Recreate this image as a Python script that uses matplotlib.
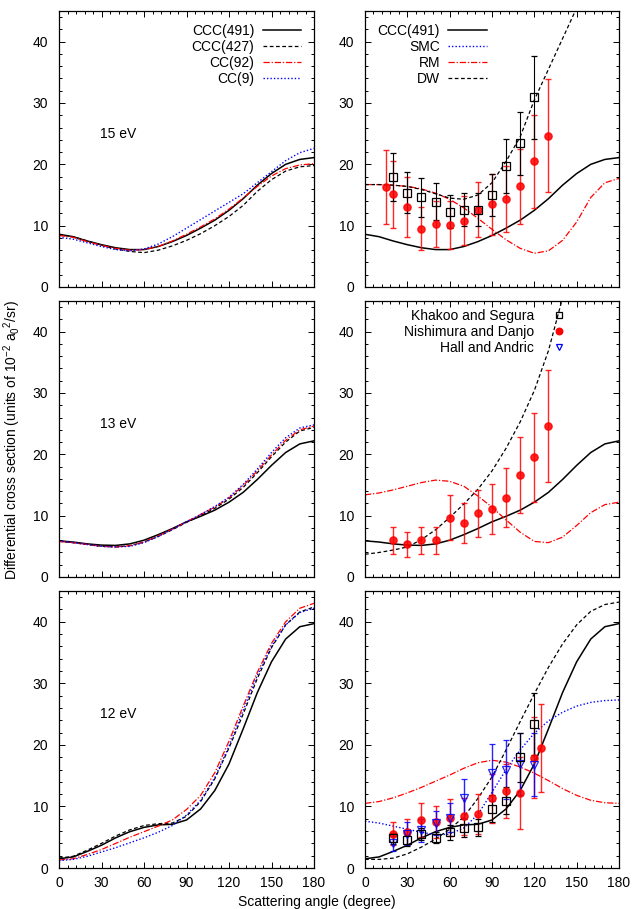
import matplotlib
matplotlib.use("Agg")
import matplotlib.pyplot as plt
from matplotlib.lines import Line2D
from matplotlib.ticker import MultipleLocator

plt.rcParams['font.family'] = ['Liberation Sans', 'DejaVu Sans']
plt.rcParams['mathtext.fontset'] = 'custom'
plt.rcParams['mathtext.rm'] = 'Liberation Sans'
plt.rcParams['mathtext.it'] = 'Liberation Sans'

# ---------------- data ----------------
ang = [0, 10, 20, 30, 40, 50, 60, 70, 80, 90, 100, 110, 120, 130, 140, 150, 160, 170, 180]

# 15 eV theory
ccc491_15 = [8.6, 8.2, 7.5, 6.9, 6.4, 6.1, 6.1, 6.6, 7.4, 8.4, 9.6, 10.9, 12.5, 14.4, 16.6, 18.5, 20.0, 20.8, 21.1]
ccc427_15 = [8.5, 8.2, 7.5, 6.8, 6.2, 5.8, 5.6, 6.0, 6.7, 7.6, 8.7, 10.0, 11.5, 13.3, 15.6, 17.5, 18.9, 19.6, 19.8]
cc92_15 = [8.4, 8.1, 7.4, 6.8, 6.3, 6.0, 6.1, 6.6, 7.5, 8.6, 9.8, 11.1, 12.7, 14.5, 16.4, 18.1, 19.3, 19.9, 20.1]
cc9_15 = [8.1, 7.8, 7.2, 6.6, 6.1, 5.9, 6.2, 7.0, 8.2, 9.6, 11.0, 12.4, 13.8, 15.2, 17.0, 18.8, 20.6, 21.9, 22.6]
rm_15 = [16.7, 16.7, 16.6, 16.4, 16.0, 15.3, 14.3, 12.9, 11.2, 9.4, 7.7, 6.3, 5.5, 5.9, 7.6, 10.6, 14.6, 17.0, 17.7]
dw_15_ang = [0, 10, 20, 30, 40, 50, 60, 70, 80, 90, 100, 110, 120, 130, 140, 150]
dw_15 = [16.7, 16.7, 16.6, 16.4, 15.9, 15.2, 14.5, 14.3, 15.0, 17.0, 20.5, 24.5, 30.5, 35.5, 40.5, 45.5]

# 13 eV theory
ccc491_13 = [5.9, 5.7, 5.4, 5.2, 5.15, 5.4, 6.0, 6.9, 7.9, 9.0, 9.9, 10.9, 12.2, 13.8, 15.9, 18.2, 20.3, 21.7, 22.2]
ccc427_13 = [5.8, 5.6, 5.3, 5.0, 4.9, 5.1, 5.7, 6.6, 7.7, 8.9, 10.0, 11.2, 12.7, 14.6, 17.0, 19.6, 22.0, 23.8, 24.4]
cc92_13 = [5.8, 5.6, 5.3, 5.0, 4.9, 5.1, 5.7, 6.7, 7.8, 9.0, 10.2, 11.4, 12.9, 14.9, 17.3, 19.9, 22.3, 24.0, 24.6]
cc9_13 = [5.9, 5.6, 5.3, 5.0, 4.9, 5.0, 5.6, 6.6, 7.8, 9.0, 10.2, 11.5, 13.0, 15.1, 17.6, 20.3, 22.7, 24.3, 24.8]
rm_13 = [13.4, 13.7, 14.2, 14.8, 15.4, 15.8, 15.6, 14.8, 13.2, 11.4, 9.3, 7.3, 5.8, 5.6, 6.5, 8.4, 10.5, 11.8, 12.2]
dw_13_ang = [0, 10, 20, 30, 40, 50, 60, 70, 80, 90, 100, 110, 120, 130, 140]
dw_13 = [3.7, 4.0, 4.4, 4.9, 6.1, 7.7, 9.7, 11.9, 14.3, 17.3, 21.0, 25.3, 30.4, 36.9, 45.5]

# 12 eV theory
ccc491_12 = [1.5, 1.8, 2.7, 3.7, 4.9, 5.9, 6.6, 7.0, 7.1, 7.8, 9.6, 12.6, 16.9, 22.6, 28.5, 33.5, 37.2, 39.2, 39.7]
ccc427_12 = [1.6, 1.9, 2.9, 4.0, 5.2, 6.2, 6.9, 7.2, 7.3, 8.4, 10.8, 14.5, 19.5, 25.0, 30.8, 35.8, 39.5, 41.6, 42.4]
cc92_12 = [1.3, 1.5, 2.2, 3.0, 4.0, 5.0, 5.9, 6.8, 7.8, 9.5, 11.8, 15.5, 20.6, 26.3, 31.8, 36.5, 40.0, 42.2, 43.0]
cc9_12 = [1.2, 1.4, 1.9, 2.6, 3.3, 4.1, 4.9, 5.8, 6.9, 8.6, 11.0, 14.7, 19.8, 25.6, 31.3, 36.0, 39.5, 41.5, 42.2]
rm_12 = [10.5, 10.8, 11.4, 12.2, 13.1, 14.1, 15.1, 16.2, 17.1, 17.5, 17.2, 16.4, 15.4, 14.2, 12.9, 11.8, 11.0, 10.6, 10.5]
dw_12 = [1.4, 1.4, 1.6, 2.3, 3.4, 4.7, 6.3, 8.3, 11.3, 14.8, 19.2, 23.8, 28.3, 32.6, 36.4, 39.5, 41.7, 42.8, 43.2]
smc_12 = [7.6, 7.3, 6.8, 6.3, 5.8, 5.4, 5.5, 6.5, 8.7, 12.3, 16.0, 19.2, 21.9, 23.9, 25.3, 26.3, 26.9, 27.2, 27.3]

# experiments
ks15_ang = [20, 30, 40, 50, 60, 70, 80, 90, 100, 110, 120]
ks15_val = [17.9, 15.4, 14.6, 13.9, 12.3, 12.6, 12.6, 15.0, 19.8, 23.4, 30.9]
ks15_err = [3.9, 3.4, 3.2, 3.0, 2.7, 2.7, 2.7, 3.5, 4.4, 5.2, 6.7]
nd15_ang = [15, 20, 30, 40, 50, 60, 70, 80, 90, 100, 110, 120, 130]
nd15_val = [16.3, 15.1, 13.0, 9.5, 10.3, 10.1, 10.8, 12.6, 13.5, 14.4, 16.4, 20.5, 24.7]
nd15_err = [6.1, 5.5, 4.9, 3.5, 3.8, 3.9, 4.0, 4.5, 5.0, 5.4, 6.1, 7.6, 9.2]

nd13_ang = [20, 30, 40, 50, 60, 70, 80, 90, 100, 110, 120, 130]
nd13_val = [6.0, 5.3, 6.0, 6.0, 9.7, 8.8, 10.4, 11.1, 12.9, 16.7, 19.5, 24.6]
nd13_err = [2.2, 2.0, 2.2, 2.2, 3.6, 3.3, 3.8, 4.1, 4.8, 6.2, 7.2, 9.1]

ks12_ang = [20, 30, 40, 50, 60, 70, 80, 90, 100, 110, 120]
ks12_val = [4.8, 4.5, 5.5, 4.9, 5.8, 6.5, 6.6, 9.6, 10.9, 18.0, 23.4]
ks12_err = [0.9, 0.9, 1.0, 0.9, 1.2, 1.4, 1.4, 2.2, 2.2, 4.0, 5.1]
nd12_ang = [20, 30, 40, 50, 60, 70, 80, 90, 100, 110, 120, 125]
nd12_val = [5.6, 5.8, 7.8, 7.4, 8.2, 8.4, 8.8, 11.3, 12.5, 12.2, 17.9, 19.5]
nd12_err = [1.9, 2.1, 2.8, 2.6, 3.0, 3.0, 3.3, 4.0, 4.4, 5.8, 6.6, 7.2]
ha12_ang = [20, 30, 40, 50, 60, 70, 90, 100, 110, 120]
ha12_val = [4.0, 5.6, 6.1, 7.3, 8.2, 11.3, 15.5, 16.0, 16.9, 16.8]
ha12_err = [1.2, 1.8, 1.8, 2.0, 2.3, 3.2, 4.6, 4.8, 5.0, 5.1]

xticks = [0, 30, 60, 90, 120, 150, 180]
yticks = [0, 10, 20, 30, 40]
energy_labels = ['15 eV', '13 eV', '12 eV']

# ---------------- styles ----------------
S_SOLID = dict(color='black', lw=1.1, ls='-')
S_DASH = dict(color='black', lw=0.9, ls=(0, (3, 2)))
S_DDOT = dict(color='#ff0000', lw=0.9, ls=(0, (5, 1.5, 1, 1.5)))
S_DOT = dict(color='#0000ff', lw=1.0, ls=(0, (1, 1.5)))
RED = '#ff0000'
BLUE = '#0000ff'

fig = plt.figure(figsize=(6.34, 9.09), dpi=100)

lx, rx = 59 / 634, 365 / 634
lw_, rw_ = 255 / 634, 254 / 634
rows = [((909 - 287) / 909, 276 / 909), ((909 - 577) / 909, 276 / 909), ((909 - 868) / 909, 277 / 909)]

axes = []
for r, (y0, h) in enumerate(rows):
    axL = fig.add_axes([lx, y0, lw_, h])
    axR = fig.add_axes([rx, y0, rw_, h])
    axes.append((axL, axR))
    for ax in (axL, axR):
        ax.set_xlim(0, 180)
        ax.set_ylim(0, 45)
        ax.set_xticks(xticks)
        ax.set_yticks(yticks)
        ax.xaxis.set_minor_locator(MultipleLocator(6))
        ax.yaxis.set_minor_locator(MultipleLocator(2))
        ax.tick_params(which='both', direction='in', top=True, right=True, labelsize=10, width=0.7)
        ax.tick_params(which='major', length=4)
        ax.tick_params(which='minor', length=2)
        ax.tick_params(axis='y', pad=8)
        ax.tick_params(axis='x', pad=6)
        for s in ax.spines.values():
            s.set_linewidth(0.9)
        if r < 2:
            ax.tick_params(labelbottom=False)

msq = dict(marker='s', ms=5.2, mfc='none', mec='black', mew=0.9, ls='none')
mci = dict(marker='o', ms=5.2, mfc=RED, mec=RED, ls='none')
mtr = dict(marker='v', ms=5.5, mfc='none', mec=BLUE, mew=0.9, ls='none')

# ---- row 1: 15 eV ----
axL, axR = axes[0]
axL.plot(ang, ccc491_15, label='CCC(491)', **S_SOLID)
axL.plot(ang, ccc427_15, label='CCC(427)', **S_DASH)
axL.plot(ang, cc92_15, label='CC(92)', **S_DDOT)
axL.plot(ang, cc9_15, label='CC(9)', **S_DOT)
axL.legend(loc='upper right', markerfirst=False, frameon=False, fontsize=10,
           handlelength=2.8, labelspacing=0.15, borderaxespad=0.5, handletextpad=0.6)

axR.plot(ang, ccc491_15, **S_SOLID)
axR.plot(ang, rm_15, **S_DDOT)
axR.plot(dw_15_ang, dw_15, **S_DASH)
axR.errorbar(nd15_ang, nd15_val, yerr=nd15_err, ecolor=RED, elinewidth=1.0, capsize=2,
             alpha=0.85, **mci)
axR.errorbar(ks15_ang, ks15_val, yerr=ks15_err, ecolor='black', elinewidth=0.8, capsize=2, **msq)
hR = [Line2D([], [], **S_SOLID), Line2D([], [], **S_DOT), Line2D([], [], **S_DDOT), Line2D([], [], **S_DASH)]
axR.legend(hR, ['CCC(491)', 'SMC', 'RM', 'DW'], loc='upper left', markerfirst=False, frameon=False,
           fontsize=10, handlelength=2.8, labelspacing=0.15, borderaxespad=0.5, handletextpad=0.6)

# ---- row 2: 13 eV ----
axL, axR = axes[1]
axL.plot(ang, ccc491_13, **S_SOLID)
axL.plot(ang, ccc427_13, **S_DASH)
axL.plot(ang, cc92_13, **S_DDOT)
axL.plot(ang, cc9_13, **S_DOT)

axR.plot(ang, ccc491_13, **S_SOLID)
axR.plot(ang, rm_13, **S_DDOT)
axR.plot(dw_13_ang, dw_13, **S_DASH)
axR.errorbar(nd13_ang, nd13_val, yerr=nd13_err, ecolor=RED, elinewidth=1.0, capsize=2,
             alpha=0.85, **mci)
hE = [Line2D([], [], **msq), Line2D([], [], **mci), Line2D([], [], **mtr)]
axR.legend(hE, ['Khakoo and Segura', 'Nishimura and Danjo', 'Hall and Andric'], loc='upper right',
           bbox_to_anchor=(0.846, 1.018), markerfirst=False, frameon=False, fontsize=10,
           handlelength=1.2, labelspacing=0.15, borderaxespad=0.5, handletextpad=1.2,
           markerscale=0.9)

# ---- row 3: 12 eV ----
axL, axR = axes[2]
axL.plot(ang, ccc491_12, **S_SOLID)
axL.plot(ang, ccc427_12, **S_DASH)
axL.plot(ang, cc92_12, **S_DDOT)
axL.plot(ang, cc9_12, **S_DOT)

axR.plot(ang, ccc491_12, **S_SOLID)
axR.plot(ang, smc_12, **S_DOT)
axR.plot(ang, rm_12, **S_DDOT)
axR.plot(ang, dw_12, **S_DASH)
axR.errorbar(nd12_ang, nd12_val, yerr=nd12_err, ecolor=RED, elinewidth=1.0, capsize=2,
             alpha=0.85, **mci)
axR.errorbar(ha12_ang, ha12_val, yerr=ha12_err, ecolor=BLUE, elinewidth=1.0, capsize=2,
             alpha=0.85, **mtr)
axR.errorbar(ks12_ang, ks12_val, yerr=ks12_err, ecolor='black', elinewidth=0.8, capsize=2, **msq)

for (axL, _), lab in zip(axes, energy_labels):
    axL.text(29, 25.0, lab, fontsize=10, va='center', ha='left')

fig.text(0.019, 0.516, r'Differential cross section (units of 10$^{-2}$ a$_0$$^2$/sr)',
         rotation=90, ha='center', va='center', fontsize=10)
fig.text(0.5, 0.0077, 'Scattering angle (degree)', ha='center', va='center', fontsize=10)

fig.savefig('out.png', dpi=100)
